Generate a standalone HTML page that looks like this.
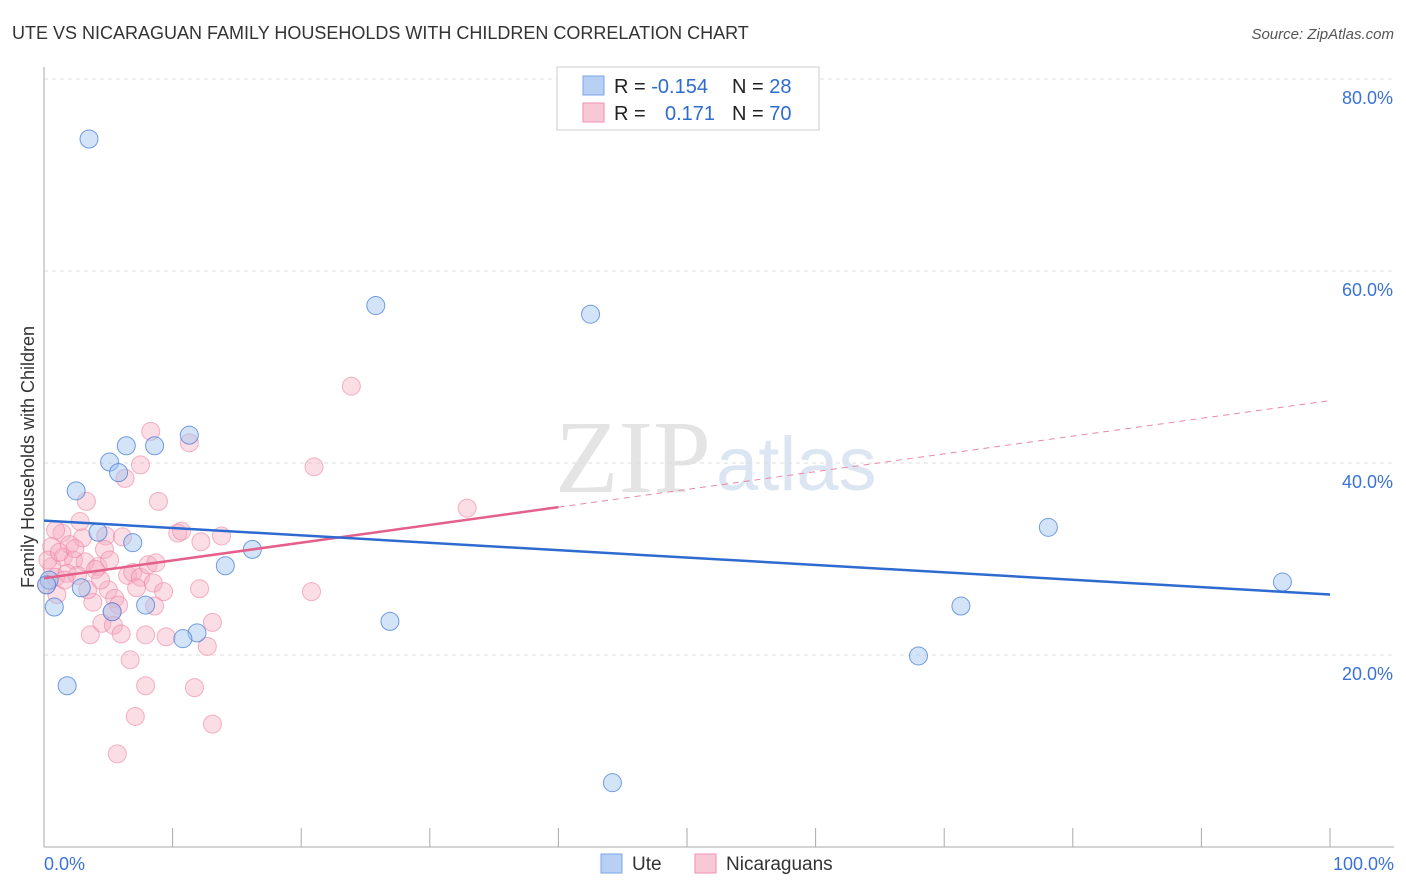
<!DOCTYPE html>
<html><head><meta charset="utf-8">
<style>
body{margin:0;background:#fff;font-family:"Liberation Sans",sans-serif;}
svg{display:block}
</style></head>
<body>
<svg id="chart" width="1406" height="892">
<text x="12" y="39" font-size="18" fill="#333">UTE VS NICARAGUAN FAMILY HOUSEHOLDS WITH CHILDREN CORRELATION CHART</text>
<text x="1394" y="39" font-size="15" fill="#555" font-style="italic" text-anchor="end">Source: ZipAtlas.com</text>
<text x="555" y="492" font-size="104" fill="#e4e4e4" font-family="Liberation Serif">ZIP</text>
<text x="716" y="490" font-size="76" fill="#dce6f3">atlas</text>
<g id="grid"></g>
<g id="axes"></g>
<g id="marks"></g>
<text transform="translate(34,457) rotate(-90)" font-size="18" fill="#333" text-anchor="middle">Family Households with Children</text>
<g>
<rect x="557" y="67" width="262" height="63" fill="#fff" stroke="#ccc"/>
<rect x="583" y="76" width="21" height="19" fill="#b8d0f4" stroke="#7aa6e6"/>
<rect x="583" y="103" width="21" height="19" fill="#f9c8d6" stroke="#ee92ae"/>
<text x="614" y="93" font-size="20" fill="#222">R = <tspan fill="#2e6bd0">-0.154</tspan></text>
<text x="732" y="93" font-size="20" fill="#222">N = <tspan fill="#2e6bd0">28</tspan></text>
<text x="614" y="120" font-size="20" fill="#222">R = <tspan x="665" fill="#2e6bd0">0.171</tspan></text>
<text x="732" y="120" font-size="20" fill="#222">N = <tspan fill="#2e6bd0">70</tspan></text>
</g>
<g>
<rect x="601" y="854" width="21" height="19" fill="#b8d0f4" stroke="#7aa6e6"/>
<text x="632" y="870" font-size="19" fill="#333">Ute</text>
<rect x="695" y="854" width="21" height="19" fill="#f9c8d6" stroke="#ee92ae"/>
<text x="726" y="870" font-size="19" fill="#333">Nicaraguans</text>
</g>
</svg>
<script>
const yTicks=[20,40,60,80];
const yTickLabels=["20.0%","40.0%","60.0%","80.0%"];
const xTickLabels=["0.0%","100.0%"];
const uteX=[3.5,25.8,42.5,6.4,8.6,11.3,5.1,5.8,2.5,4.2,6.9,16.2,14.1,0.4,2.9,7.9,0.8,5.3,26.9,11.9,10.8,1.8,44.2,68.0,71.3,78.1,96.3,0.2];
const uteY=[73.75,56.4,55.5,41.8,41.8,42.9,40.1,39.0,37.1,32.8,31.7,31.0,29.3,27.8,27.0,25.2,25.0,24.5,23.5,22.3,21.7,16.8,6.7,19.9,25.1,33.3,27.6,27.3];
const nicX=[8.3,11.3,7.5,21.0,6.3,3.3,8.9,2.8,1.4,3.0,4.8,6.1,10.4,10.7,12.2,13.8,4.7,2.0,0.6,1.5,2.3,3.2,4.2,0.6,0.9,1.8,2.6,4.0,6.5,6.9,7.5,8.1,8.7,7.2,8.5,9.3,12.1,20.8,1.0,5.0,3.8,5.5,5.8,8.6,5.3,4.5,5.4,13.1,3.6,6.0,7.9,9.5,12.7,6.7,7.9,11.7,7.1,13.1,5.7,23.9,32.9,0.2,0.3,0.9,1.2,1.6,2.4,3.4,4.4,5.1];
const nicY=[43.3,42.1,39.8,39.6,38.4,36.0,36.0,33.9,32.7,32.2,32.4,32.3,32.7,32.9,31.8,32.4,31.0,31.5,31.3,30.2,29.9,29.7,29.2,29.2,28.1,28.5,28.3,28.9,28.3,28.6,28.1,29.4,29.6,27.0,27.5,26.6,26.9,26.6,26.3,26.8,25.5,25.9,25.2,25.1,24.5,23.3,23.1,23.4,22.1,22.2,22.1,21.9,20.9,19.5,16.8,16.6,13.6,12.8,9.7,48.0,35.3,27.3,29.9,33.0,30.7,27.8,31.1,26.8,27.8,29.9];
const uteTrend=[34.0,26.3];
const nicTrend=[28.0,46.5];
const nicSolidEnd=40;

const NS="http://www.w3.org/2000/svg";
const X=v=>44+v*12.86;
const Y=v=>847-v*9.6;
function mk(tag,attrs,parent){const e=document.createElementNS(NS,tag);for(const k in attrs)e.setAttribute(k,attrs[k]);parent.appendChild(e);return e;}
const grid=document.getElementById('grid'),axes=document.getElementById('axes'),marks=document.getElementById('marks');
yTicks.forEach((t,i)=>{
 const l=mk('line',{x1:44,x2:1394,y1:Y(t),y2:Y(t),stroke:'#ddd','stroke-dasharray':'4,4'},grid);
 
 
 const tx=mk('text',{x:1393,y:Y(t)+25,'font-size':18,fill:'#3a72d6','text-anchor':'end'},axes);
 tx.textContent=yTickLabels[i];
 
 
});
const ya=mk('line',{x1:44,x2:44,y1:67,y2:847,stroke:'#aaa'},axes);


const xa=mk('line',{x1:44,x2:1394,y1:847,y2:847,stroke:'#aaa'},axes);


for(let i=0;i<=10;i++){
 const t=mk('line',{x1:X(i*10),x2:X(i*10),y1:828,y2:847,stroke:'#aaa'},axes);
 
 
}
[[0,'start',44],[100,'end',1394]].forEach((d,i)=>{
 const tx=mk('text',{x:d[2],y:870,'font-size':18,fill:'#3a72d6','text-anchor':d[1]},axes);
 tx.textContent=xTickLabels[i];
 
 
});
nicX.forEach((v,i)=>{
 const c=mk('circle',{cx:X(v),cy:Y(nicY[i]),r:9,fill:'rgba(246,170,192,0.4)',stroke:'rgba(236,130,162,0.6)','stroke-width':1},marks);
 
 
});
uteX.forEach((v,i)=>{
 const c=mk('circle',{cx:X(v),cy:Y(uteY[i]),r:9,fill:'rgba(160,195,240,0.45)',stroke:'rgba(70,125,215,0.75)','stroke-width':1},marks);
 
 
});
const nAt=x=>nicTrend[0]+(nicTrend[1]-nicTrend[0])*x/100;
const nd=mk('line',{x1:X(nicSolidEnd),y1:Y(nAt(nicSolidEnd)),x2:X(100),y2:Y(nAt(100)),stroke:'#e889a8','stroke-width':1,'stroke-dasharray':'6,5'},marks);


const ns=mk('line',{x1:X(0),y1:Y(nAt(0)),x2:X(nicSolidEnd),y2:Y(nAt(nicSolidEnd)),stroke:'#e4608b','stroke-width':2.5},marks);


const ut=mk('line',{x1:X(0),y1:Y(uteTrend[0]),x2:X(100),y2:Y(uteTrend[1]),stroke:'#2e6bd0','stroke-width':2.5},marks);


</script>
</body></html>
